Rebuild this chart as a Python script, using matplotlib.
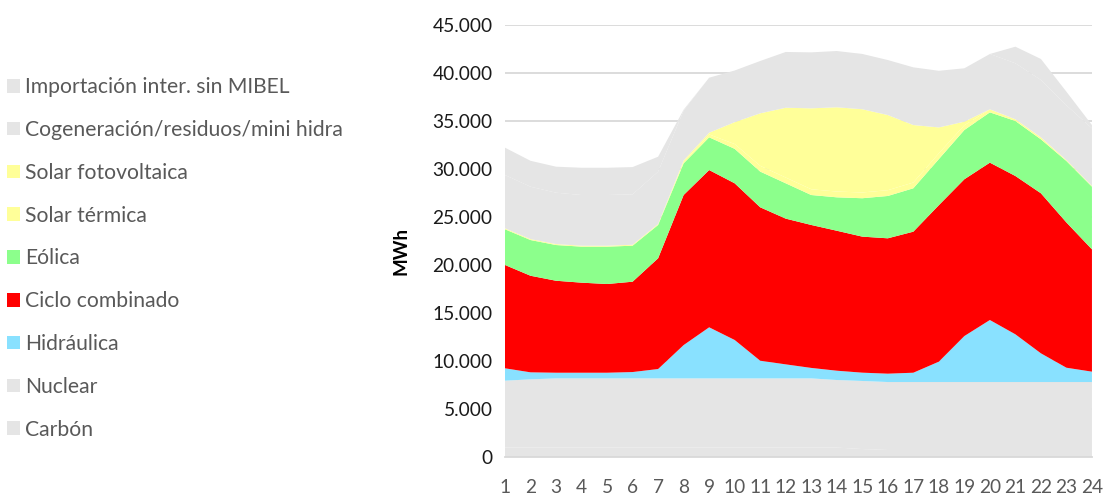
import matplotlib.pyplot as plt
from matplotlib.ticker import FuncFormatter

plt.rcParams['font.family'] = ['Lato', 'DejaVu Sans']

hours = list(range(1, 25))

# MWh per hour, stacked bottom to top
carbon = [950] * 14 + [800] + [700] * 9
nuclear = [6970, 7110] + [7210] * 11 + [7040, 7090] + [7080] * 9
hidraulica = [1290, 730, 590, 590, 590, 660, 975, 3470, 5320, 4000, 1840, 1460,
              1090, 970, 865, 870, 970, 2120, 4790, 6460, 4970, 2990, 1490, 1080]
ciclo = [10760, 10060, 9580, 9380, 9240, 9410, 11535, 15630, 16380, 16320, 15980, 15180,
         14890, 14580, 14170, 14100, 14690, 16300, 16330, 16390, 16490, 16670, 15130, 12740]
eolica = [3720, 3720, 3720, 3750, 3890, 3750, 3470, 3300, 3410, 3590, 3720, 3680,
          3120, 3480, 4000, 4410, 4520, 4800, 5130, 5240, 5730, 5620, 6400, 6530]
solar_termica = [100, 100, 100, 100, 100, 100, 100, 150, 300, 500, 600, 600,
                 600, 600, 600, 600, 600, 600, 500, 300, 180, 200, 100, 80]
solar_fv = [0, 0, 0, 0, 0, 0, 0, 150, 180, 2280, 5470, 7270,
            8430, 8780, 8670, 7830, 5990, 2700, 370, 20, 0, 10, 0, 0]
cogeneracion = [5550, 5455, 5350, 5280, 5280, 5250, 5450, 5190, 5730, 5380, 5450, 5810,
                5830, 5860, 5760, 5730, 6010, 5900, 5560, 5760, 5830, 5970, 5700, 5990]
importacion = [2850, 2700, 2710, 2840, 2840, 2840, 1560, 100, 0, 0, 0, 0,
               0, 0, 0, 0, 0, 0, 0, 0, 1730, 2190, 1420, 350]

labels = ['Carbón', 'Nuclear', 'Hidráulica', 'Ciclo combinado', 'Eólica',
          'Solar térmica', 'Solar fotovoltaica', 'Cogeneración/residuos/mini hidra',
          'Importación inter. sin MIBEL']
series = [carbon, nuclear, hidraulica, ciclo, eolica, solar_termica, solar_fv,
          cogeneracion, importacion]
grey = '#E5E5E5'
colors = [grey, grey, '#89E1FF', '#FF0000', '#8CFF8C', '#FFFF99', '#FFFF99', grey, grey]

fig = plt.figure(figsize=(11.06, 4.96), dpi=100)
ax = fig.add_axes([0.4566, 0.0792, 0.5307, 0.8710])

polys = ax.stackplot(hours, *series, colors=colors, labels=labels, linewidth=0, zorder=2)

ax.set_xlim(1, 24)
ax.set_ylim(0, 45000)
ax.set_xticks(hours)
ax.set_yticks(range(0, 45001, 5000))
ax.yaxis.set_major_formatter(FuncFormatter(lambda v, p: f'{int(v):,}'.replace(',', '.')))
ax.grid(axis='y', color='#D9D9D9', linewidth=1.3, zorder=0)
ax.set_axisbelow(True)
for s in ['top', 'right', 'left']:
    ax.spines[s].set_visible(False)
ax.spines['bottom'].set_color('#D9D9D9')
ax.spines['bottom'].set_linewidth(1.3)
ax.tick_params(axis='y', length=0, pad=9, labelsize=13.8, labelcolor='#1A1A1A')
ax.tick_params(axis='x', length=0, pad=16, labelsize=13.8, labelcolor='#595959')

ax.set_ylabel('MWh', fontsize=13.5, fontweight='bold', color='#000000')
ax.yaxis.set_label_coords(-0.163, 0.477)

fig.legend(polys[::-1], labels[::-1], loc='center left', bbox_to_anchor=(0.0063, 0.479),
           frameon=False, fontsize=15.2, labelcolor='#595959', handlelength=0.62,
           handleheight=0.62, handletextpad=0.25, labelspacing=1.08,
           borderpad=0, borderaxespad=0)

fig.savefig('out.png', dpi=100)
